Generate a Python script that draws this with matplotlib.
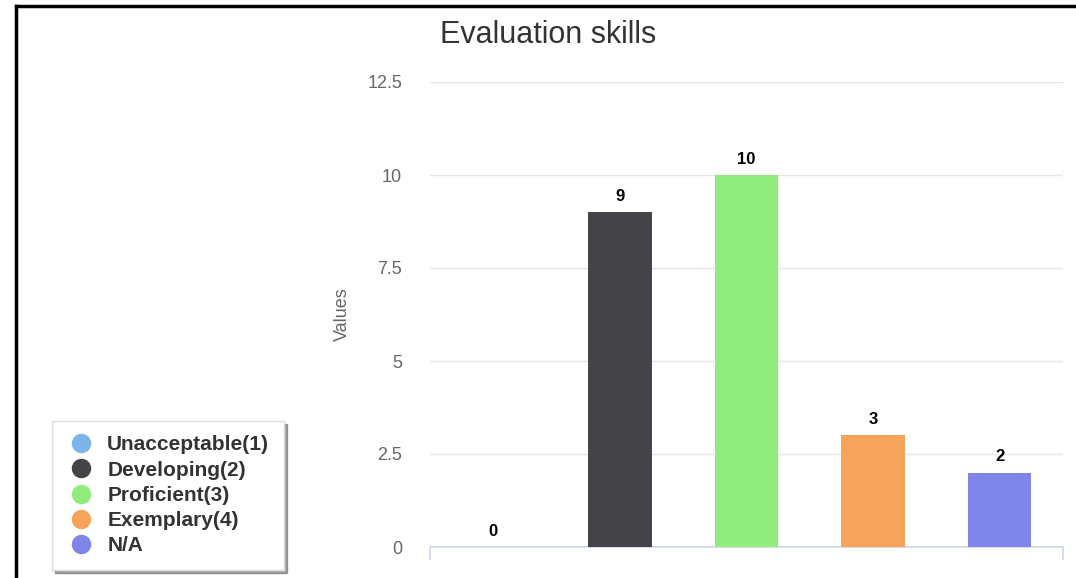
import matplotlib.pyplot as plt
from matplotlib.lines import Line2D

plt.rcParams['font.family'] = ['Liberation Sans', 'DejaVu Sans']

categories = ["Unacceptable(1)", "Developing(2)", "Proficient(3)", "Exemplary(4)", "N/A"]
values = [0, 9, 10, 3, 2]
colors = ["#7cb5ec", "#434348", "#90ed7d", "#f7a35c", "#8085e9"]
yticks = [0, 2.5, 5, 7.5, 10, 12.5]
ytick_labels = ["0", "2.5", "5", "7.5", "10", "12.5"]

fig = plt.figure(figsize=(10.76, 5.78), dpi=100)
ax = fig.add_axes([430 / 1076, 1 - 547 / 578, (1063 - 430) / 1076, (547 - 82) / 578])

x = list(range(len(categories)))
bars = ax.bar(x, values, width=0.5, color=colors, zorder=3)
for xi, v in zip(x, values):
    ax.annotate(str(v), (xi, v), xytext=(0, 6), textcoords="offset points",
                ha="center", va="bottom", fontsize=12, fontweight="bold", color="#000000")

ax.set_xlim(-0.5, 4.5)
ax.set_ylim(0, 12.5)
ax.set_yticks(yticks)
ax.set_yticklabels(ytick_labels, fontsize=13, color="#666666")
ax.tick_params(axis="y", length=0, pad=20)
ax.set_xticks([-0.5, 4.5])
ax.set_xticklabels(["", ""])
ax.tick_params(axis="x", length=9, color="#ccd6eb", width=1.2)
ax.grid(axis="y", color="#e6e6e6", linewidth=1, zorder=0)
for s in ["top", "right", "left"]:
    ax.spines[s].set_visible(False)
ax.spines["bottom"].set_color("#ccd6eb")
ax.spines["bottom"].set_linewidth(1.2)
ax.set_ylabel("Values", fontsize=13, color="#666666", labelpad=12)

fig.text(548 / 1076, 1 - 35 / 578, "Evaluation skills", ha="center", va="center",
         fontsize=22, color="#333333")

handles = [Line2D([], [], marker="o", linestyle="", markersize=13,
                  markerfacecolor=c, markeredgecolor=c) for c in colors]
leg = fig.legend(handles, categories, loc="lower left",
                 bbox_to_anchor=(52 / 1076, 1 - 570 / 578), frameon=True,
                 fancybox=False, shadow=True, prop={"weight": "bold", "size": 15},
                 labelspacing=0.3, handletextpad=0.55, borderpad=0.7, handlelength=1.4,
                 borderaxespad=0)
leg.get_frame().set_edgecolor("#dddddd")
for t in leg.get_texts():
    t.set_color("#333333")

# black frame on top and left of the screenshot
fig.add_artist(Line2D([16 / 1076, 1], [1 - 5.5 / 578, 1 - 5.5 / 578], color="black", linewidth=2.5))
fig.add_artist(Line2D([16 / 1076, 16 / 1076], [0, 1 - 5.5 / 578], color="black", linewidth=2.5))

fig.savefig("out.png", dpi=100)
